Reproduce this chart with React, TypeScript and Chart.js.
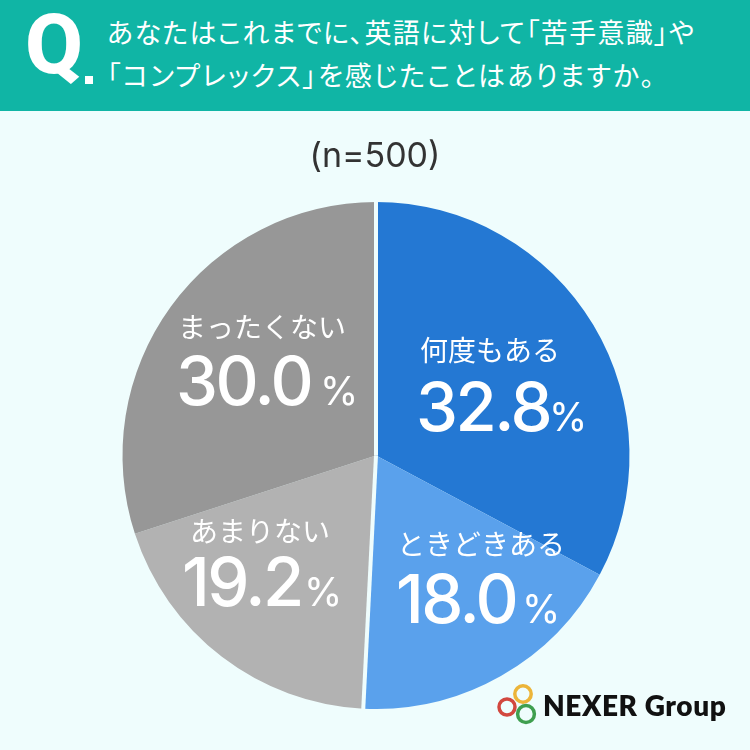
import React, { useEffect, useRef } from "react";
import { Chart, registerables, Plugin } from "chart.js";

Chart.register(...registerables);

const categories = ["何度もある", "ときどきある", "あまりない", "まったくない"];
const percentages = [32.8, 18.0, 19.2, 30.0];
const sliceColors = ["#2478d3", "#5aa1ec", "#b2b2b2", "#979797"];
const questionLines = [
  "あなたはこれまでに、英語に対して「苦手意識」や",
  "「コンプレックス」を感じたことはありますか。",
];
const questionSpacing = [1.3, 1.95];
const sampleNote = "(n=500)";
const brandName = "NEXER Group";

const BG = "#effdfd";
const HEADER = "#10b5a5";
const CJK = '"Noto Sans CJK JP", "Noto Sans", sans-serif';
const NUM = 'Inter, Roboto, sans-serif';

// Label anchors: name (left, baseline), value (left, baseline), percent sign (left)
const labelAnchors = [
  { nx: 420, ny: 361, vx: 416, vy: 431, px: 549 },
  { nx: 397, ny: 555, vx: 396, vy: 623, px: 522 },
  { nx: 190, ny: 542, vx: 182, vy: 606, px: 304 },
  { nx: 178, ny: 338, vx: 176, vy: 405, px: 320 },
];

const pieLabels: Plugin<"pie"> = {
  id: "pieLabels",
  afterDatasetsDraw(chart) {
    const { ctx } = chart;
    const arcs = chart.getDatasetMeta(0).data as any[];
    ctx.save();
    // group dividers: before the first slice and before the third slice
    ctx.strokeStyle = BG;
    ctx.lineWidth = 4;
    [0, 2].forEach((i) => {
      const a = arcs[i];
      const r = a.outerRadius + 3;
      ctx.beginPath();
      ctx.moveTo(a.x, a.y);
      ctx.lineTo(a.x + Math.cos(a.startAngle) * r, a.y + Math.sin(a.startAngle) * r);
      ctx.stroke();
    });
    ctx.fillStyle = "#ffffff";
    ctx.textAlign = "left";
    ctx.textBaseline = "alphabetic";
    categories.forEach((name, i) => {
      const p = labelAnchors[i];
      (ctx as any).letterSpacing = "0px";
      ctx.font = `400 28px ${CJK}`;
      ctx.fillText(name, p.nx, p.ny);
      (ctx as any).letterSpacing = "-2.5px";
      ctx.font = `500 67px ${NUM}`;
      ctx.fillText(percentages[i].toFixed(1), p.vx, p.vy);
      (ctx as any).letterSpacing = "0px";
      ctx.font = `400 39px ${NUM}`;
      ctx.fillText("%", p.px, p.vy);
    });
    ctx.restore();
  },
};

export default function App() {
  const ref = useRef<HTMLCanvasElement>(null);
  useEffect(() => {
    const chart = new Chart(ref.current!, {
      type: "pie",
      data: {
        labels: categories,
        datasets: [{ data: percentages, backgroundColor: sliceColors, borderWidth: 0 }],
      },
      options: {
        animation: false,
        responsive: false,
        layout: { padding: { left: 122.5, right: 120.5, top: 202, bottom: 41 } },
        plugins: { legend: { display: false }, tooltip: { enabled: false } },
      },
      plugins: [pieLabels],
    });
    return () => chart.destroy();
  }, []);

  return (
    <div style={{ position: "fixed", left: 0, top: 0, width: 750, height: 750, background: BG, overflow: "hidden" }}>
      <canvas ref={ref} width={750} height={750} style={{ position: "absolute", left: 0, top: 0, display: "block" }} />
      <div style={{ position: "absolute", left: 0, top: 0, width: 750, height: 111, background: HEADER }} />
      <div style={{ position: "absolute", left: 25, top: -1, color: "#fff", font: `800 84px/92px Roboto, sans-serif` }}>Q</div>
      <div style={{ position: "absolute", left: 85, top: 76, width: 8, height: 8, background: "#fff" }} />
      {questionLines.map((t, i) => (
        <div
          key={i}
          style={{
            position: "absolute",
            left: 107,
            top: 13 + i * 43,
            whiteSpace: "nowrap",
            color: "#fff",
            font: `400 27px/38px ${CJK}`,
            fontFeatureSettings: '"palt"',
            letterSpacing: questionSpacing[i],
          }}
        >
          {t}
        </div>
      ))}
      <div style={{ position: "absolute", left: 0, width: 750, top: 132, textAlign: "center", color: "#333", font: `400 34px/46px ${NUM}` }}>
        {sampleNote}
      </div>
      <svg style={{ position: "absolute", left: 495, top: 680 }} width={50} height={50}>
        <circle cx={12} cy={27} r={8} fill="none" stroke="#d2483f" strokeWidth={3.5} />
        <circle cx={28} cy={14} r={8.2} fill="none" stroke="#ecb53a" strokeWidth={3.5} />
        <circle cx={31} cy={34} r={8.4} fill="none" stroke="#3f9f4f" strokeWidth={3.5} />
      </svg>
      <div style={{ position: "absolute", left: 543, top: 686, whiteSpace: "nowrap", color: "#111", letterSpacing: "0.6px", font: `800 28px/38px Lato, sans-serif` }}>
        {brandName}
      </div>
    </div>
  );
}
